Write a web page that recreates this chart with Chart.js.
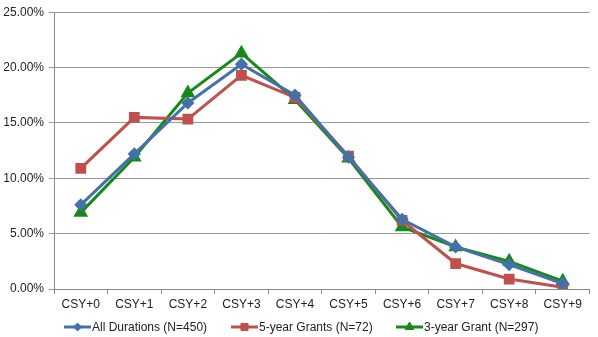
<!DOCTYPE html>
<html>
<head>
<meta charset="utf-8">
<script src="https://cdn.jsdelivr.net/npm/chart.js@4/dist/chart.umd.min.js"></script>
<style>
  html, body { margin: 0; padding: 0; background: #fff; }
  #wrap { width: 598px; height: 337px; }
</style>
</head>
<body>
<div id="wrap"><canvas id="grafica"></canvas></div>
<script>
var categorias = ['CSY+0', 'CSY+1', 'CSY+2', 'CSY+3', 'CSY+4', 'CSY+5', 'CSY+6', 'CSY+7', 'CSY+8', 'CSY+9'];
var todas = [7.6, 12.2, 16.8, 20.3, 17.5, 11.9, 6.3, 3.8, 2.2, 0.5];
var cinco = [10.9, 15.5, 15.35, 19.3, 17.3, 12.0, 6.2, 2.3, 0.9, 0.15];
var tres = [6.9, 11.9, 17.7, 21.3, 17.1, 11.8, 5.6, 3.8, 2.5, 0.7];
var etiquetas = ['All Durations (N=450)', '5-year Grants (N=72)', '3-year Grant (N=297)'];

var fuente = '12px "Liberation Sans", Arial, sans-serif';

// leyenda con linea y marcador, como en Excel
var leyenda = {
    id: 'leyenda',
    afterDraw: function (chart) {
        var c = chart.ctx;
        var xs = [64, 231, 396];
        var y = 327;
        c.save();
        c.font = fuente;
        c.textBaseline = 'middle';
        chart.data.datasets.forEach(function (ds, i) {
            var x = xs[i];
            c.strokeStyle = ds.borderColor;
            c.fillStyle = ds.backgroundColor;
            c.lineWidth = 3;
            c.beginPath();
            c.moveTo(x, y);
            c.lineTo(x + 27, y);
            c.stroke();
            c.lineWidth = 1;
            Chart.helpers.drawPoint(c, {
                pointStyle: ds.pointStyle,
                radius: ds.pointRadius - 0.5,
                rotation: 0,
                borderWidth: 1
            }, x + 13.5, y);
            c.fillStyle = '#222';
            c.fillText(ds.label, x + 28, y + 1);
        });
        c.restore();
    }
};

var ctx = document.getElementById('grafica');
var grafica = new Chart(ctx, {
    type: 'line',
    data: {
        labels: categorias,
        datasets: [{
            label: etiquetas[0],
            data: todas,
            borderColor: '#4471A8',
            backgroundColor: '#4471A8',
            pointStyle: 'rectRot',
            pointRadius: 4.5,
            borderWidth: 3
        }, {
            label: etiquetas[1],
            data: cinco,
            borderColor: '#C0504D',
            backgroundColor: '#C0504D',
            pointStyle: 'rect',
            pointRadius: 5.5,
            borderWidth: 3
        }, {
            label: etiquetas[2],
            data: tres,
            borderColor: '#168A16',
            backgroundColor: '#168A16',
            pointStyle: 'triangle',
            pointRadius: 5.5,
            borderWidth: 3
        }]
    },
    options: {
        responsive: true,
        maintainAspectRatio: false,
        animation: false,
        layout: { padding: { top: 6, right: 8, bottom: 22, left: 0 } },
        plugins: {
            legend: { display: false },
            tooltip: { enabled: false }
        },
        scales: {
            x: {
                offset: true,
                grid: {
                    display: true,
                    drawOnChartArea: false,
                    offset: true,
                    color: '#888',
                    tickLength: 5
                },
                border: { color: '#888' },
                ticks: { color: '#222', font: { family: '"Liberation Sans", Arial, sans-serif', size: 12 }, padding: 3, maxRotation: 0 },
                afterFit: function (s) { s.height = 26; }
            },
            y: {
                min: 0,
                max: 25,
                ticks: {
                    stepSize: 5,
                    color: '#222',
                    font: { family: '"Liberation Sans", Arial, sans-serif', size: 12 },
                    padding: 5,
                    callback: function (v) { return v.toFixed(2) + '%'; }
                },
                grid: { color: '#999', tickLength: 5 },
                border: { color: '#888' },
                afterFit: function (s) { s.width = 54; }
            }
        }
    },
    plugins: [leyenda]
});
</script>
</body>
</html>
